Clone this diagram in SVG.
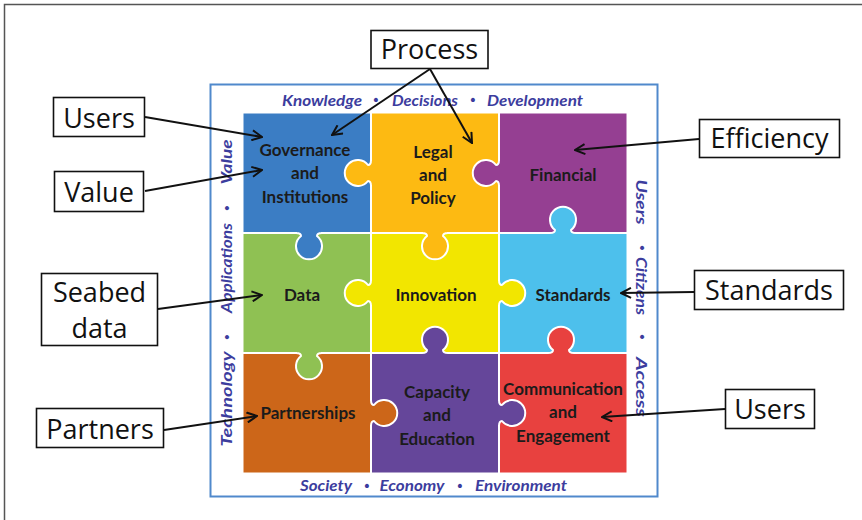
<svg xmlns="http://www.w3.org/2000/svg" width="862" height="520" viewBox="0 0 862 520">
<style>
.piece-text{font-family:Lato,"Liberation Sans",sans-serif;font-weight:700;font-size:17px;fill:#1b1b1b;text-anchor:middle}
.side{font-family:Lato,"Liberation Sans",sans-serif;font-weight:700;font-style:italic;font-size:15px;fill:#3c3d9e;text-anchor:middle}
.dot{font-family:"DejaVu Sans",sans-serif;font-size:14px;fill:#3c3d9e;text-anchor:middle}
.box rect{fill:#fff;stroke:#111;stroke-width:1.6}
.box text{font-family:"Open Sans","DejaVu Sans",sans-serif;font-size:27px;fill:#111;text-anchor:middle}
.tab{stroke:#fff;stroke-width:2;stroke-linejoin:round}
.sep{stroke:#fff;stroke-width:2;fill:none}
.conn line{stroke:#111;stroke-width:2;marker-end:url(#arr)}
</style>
<defs>
<path id="tab" d="M -13,-1 L -13,0 Q -8,0 -8,3 A 13 13 0 1 0 8,3 Q 8,0 13,0 L 13,-1"/>
<marker id="arr" markerUnits="userSpaceOnUse" viewBox="0 0 12 12" markerWidth="12" markerHeight="12" refX="11" refY="6" orient="auto">
<path d="M1,1 L11,6 L1,11" fill="none" stroke="#111" stroke-width="2"/>
</marker>
</defs>
<rect x="0" y="0" width="862" height="520" fill="#fff"/>
<rect x="4.5" y="4.5" width="900" height="600" fill="none" stroke="#555" stroke-width="1.5"/>
<rect x="210.5" y="84.5" width="447" height="412" fill="#fff" stroke="#5089cc" stroke-width="2"/>

<g id="frame-top">
<text class="side" x="322" y="105.5" textLength="80" lengthAdjust="spacingAndGlyphs">Knowledge</text>
<text class="dot" x="376" y="105">•</text>
<text class="side" x="425" y="105.5" textLength="66" lengthAdjust="spacingAndGlyphs">Decisions</text>
<text class="dot" x="473" y="105">•</text>
<text class="side" x="535" y="105.5" textLength="96" lengthAdjust="spacingAndGlyphs">Development</text>
</g>
<g id="frame-bottom">
<text class="side" x="326" y="491" textLength="52" lengthAdjust="spacingAndGlyphs">Society</text>
<text class="dot" x="367" y="490.5">•</text>
<text class="side" x="412" y="491" textLength="65" lengthAdjust="spacingAndGlyphs">Economy</text>
<text class="dot" x="460" y="490.5">•</text>
<text class="side" x="521" y="491" textLength="92" lengthAdjust="spacingAndGlyphs">Environment</text>
</g>
<g id="frame-left" transform="translate(227,0) rotate(-90)">
<text class="side" x="-162" y="5" textLength="45" lengthAdjust="spacingAndGlyphs">Value</text>
<text class="dot" x="-208" y="4.5">•</text>
<text class="side" x="-268" y="5" textLength="90" lengthAdjust="spacingAndGlyphs">Applications</text>
<text class="dot" x="-337" y="4.5">•</text>
<text class="side" x="-399" y="5" textLength="95" lengthAdjust="spacingAndGlyphs">Technology</text>
</g>
<g id="frame-right" transform="translate(641,0) rotate(90)">
<text class="side" x="202" y="5" textLength="45" lengthAdjust="spacingAndGlyphs">Users</text>
<text class="dot" x="248" y="4.5">•</text>
<text class="side" x="286" y="5" textLength="58" lengthAdjust="spacingAndGlyphs">Citizens</text>
<text class="dot" x="337" y="4.5">•</text>
<text class="side" x="387" y="5" textLength="60" lengthAdjust="spacingAndGlyphs">Access</text>
</g>

<g id="pieces-fill">
<rect x="243" y="113" width="128" height="120" fill="#3b7dc4"/>
<rect x="371" y="113" width="128" height="120" fill="#fdba12"/>
<rect x="499" y="113" width="128" height="120" fill="#953f92"/>
<rect x="243" y="233" width="128" height="120" fill="#8fc153"/>
<rect x="371" y="233" width="128" height="120" fill="#f2e600"/>
<rect x="499" y="233" width="128" height="120" fill="#4dc0ec"/>
<rect x="243" y="353" width="128" height="120" fill="#cc6619"/>
<rect x="371" y="353" width="128" height="120" fill="#65469a"/>
<rect x="499" y="353" width="128" height="120" fill="#e8413f"/>
</g>

<g id="tabs">
<use href="#tab" class="tab" fill="#fdba12" transform="translate(371,173) rotate(90)"/>
<use href="#tab" class="tab" fill="#953f92" transform="translate(499,173) rotate(90)"/>
<use href="#tab" class="tab" fill="#4dc0ec" transform="translate(563,233) rotate(180)"/>
<use href="#tab" class="tab" fill="#3b7dc4" transform="translate(309,233)"/>
<use href="#tab" class="tab" fill="#fdba12" transform="translate(435,233)"/>
<use href="#tab" class="tab" fill="#f2e600" transform="translate(371,293) rotate(90)"/>
<use href="#tab" class="tab" fill="#f2e600" transform="translate(499,293) rotate(-90)"/>
<use href="#tab" class="tab" fill="#65469a" transform="translate(435,353) rotate(180)"/>
<use href="#tab" class="tab" fill="#e8413f" transform="translate(561,353) rotate(180)"/>
<use href="#tab" class="tab" fill="#8fc153" transform="translate(309,353)"/>
<use href="#tab" class="tab" fill="#cc6619" transform="translate(371,413) rotate(-90)"/>
<use href="#tab" class="tab" fill="#65469a" transform="translate(499,413) rotate(-90)"/>
</g>

<path class="sep" d="M371,113 V160 M371,186 V280 M371,306 V400 M371,426 V473 M499,113 V160 M499,186 V280 M499,306 V400 M499,426 V473 M243,233 H296 M322,233 H422 M448,233 H550 M576,233 H627 M243,353 H296 M322,353 H422 M448,353 H548 M574,353 H627"/>
<rect x="243" y="113" width="384" height="360" fill="none" stroke="#fff" stroke-width="1"/>

<g id="governance"><text class="piece-text" x="305" y="156">Governance</text><text class="piece-text" x="305" y="179">and</text><text class="piece-text" x="305" y="203">Institutions</text></g>
<g id="legal"><text class="piece-text" x="433" y="158">Legal</text><text class="piece-text" x="433" y="181">and</text><text class="piece-text" x="433" y="204">Policy</text></g>
<g id="financial"><text class="piece-text" x="563" y="181">Financial</text></g>
<g id="data"><text class="piece-text" x="302" y="301">Data</text></g>
<g id="innovation"><text class="piece-text" x="436" y="301">Innovation</text></g>
<g id="standards"><text class="piece-text" x="573" y="301">Standards</text></g>
<g id="partnerships"><text class="piece-text" x="308" y="419">Partnerships</text></g>
<g id="capacity"><text class="piece-text" x="437" y="398">Capacity</text><text class="piece-text" x="437" y="421">and</text><text class="piece-text" x="437" y="445">Education</text></g>
<g id="communication"><text class="piece-text" x="563" y="395">Communication</text><text class="piece-text" x="563" y="418">and</text><text class="piece-text" x="563" y="442">Engagement</text></g>

<g id="connectors" class="conn">
<line x1="430" y1="69" x2="332" y2="135"/>
<line x1="430" y1="69" x2="472" y2="143"/>
<line x1="145" y1="117" x2="262" y2="137"/>
<line x1="145" y1="191" x2="262" y2="170"/>
<line x1="158" y1="309" x2="262" y2="295"/>
<line x1="164" y1="430" x2="257" y2="416"/>
<line x1="699" y1="139" x2="575" y2="150"/>
<line x1="694" y1="292" x2="621" y2="293"/>
<line x1="725" y1="409" x2="602" y2="417"/>
</g>

<g id="process" class="box"><rect x="371" y="30.5" width="117" height="38"/><text x="429.5" y="59">Process</text></g>
<g id="users-left" class="box"><rect x="53.5" y="97.5" width="91" height="39"/><text x="99" y="127.5">Users</text></g>
<g id="value" class="box"><rect x="54.5" y="171.5" width="89" height="40"/><text x="99" y="201.5">Value</text></g>
<g id="seabed" class="box"><rect x="41.5" y="273.5" width="116" height="72"/><text x="99.5" y="302" font-size="26"><tspan x="99.5" y="302">Seabed</tspan><tspan x="99.5" y="338">data</tspan></text></g>
<g id="partners" class="box"><rect x="36.5" y="408.5" width="127" height="39"/><text x="100" y="439">Partners</text></g>
<g id="efficiency" class="box"><rect x="699.5" y="119.5" width="140" height="38"/><text x="769.5" y="147.5">Efficiency</text></g>
<g id="standards-box" class="box"><rect x="694.5" y="270.5" width="149" height="39"/><text x="769" y="299.5">Standards</text></g>
<g id="users-right" class="box"><rect x="725.5" y="389.5" width="89" height="39"/><text x="770" y="418.5">Users</text></g>
</svg>
